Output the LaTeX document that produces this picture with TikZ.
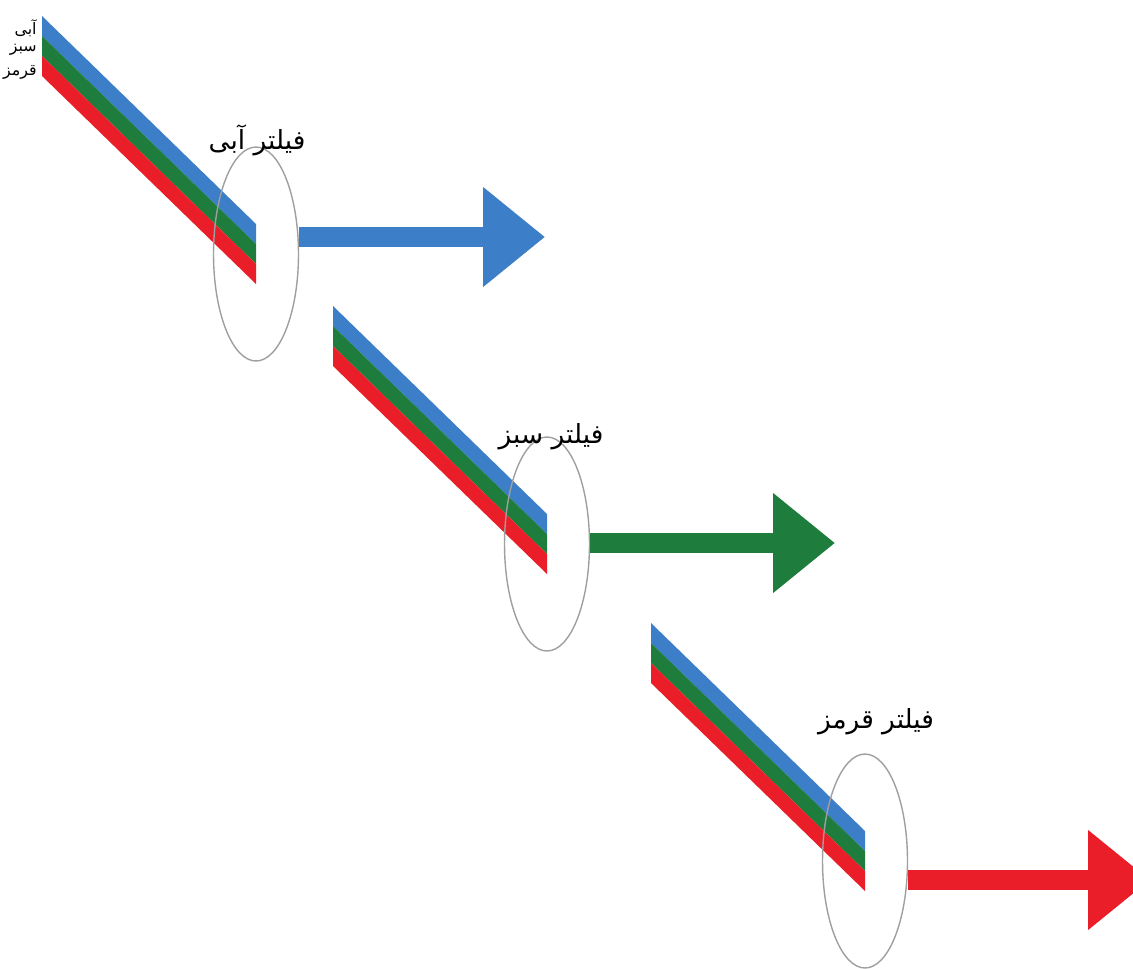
\documentclass[tikz,border=0pt]{standalone}
\usepackage{fontspec}
\newfontfamily\arabicfont[Script=Arabic]{DejaVu Sans}
\TeXXeTstate=1
\usetikzlibrary{shapes.geometric,arrows.meta,positioning}
\usepackage{xcolor}

\definecolor{beamblue}{RGB}{60,126,200}
\definecolor{beamgreen}{RGB}{30,124,60}
\definecolor{beamred}{RGB}{234,30,40}

\begin{document}
\begin{tikzpicture}[
  x=0.02cm, y=-0.02cm,
  filter/.style={ellipse, draw=gray!75, line width=0.8pt, minimum width=1.7cm, minimum height=4.28cm, inner sep=0pt},
  lbl/.style={font=\arabicfont\fontsize{15}{18}\selectfont, inner sep=0pt},
  tag/.style={font=\arabicfont\fontsize{9}{10}\selectfont, inner sep=0pt, anchor=east},
  outarr/.style={line width=0.4cm, -{Triangle[length=1.24cm, width=1.92cm]}},
]
\useasboundingbox (0,0) rectangle (1133,968);

% Beams
\foreach \bx/\by/\bn in {42/16/1, 333/306/2, 651/623/3}{
  \foreach \col [count=\k from 0] in {beamblue,beamgreen,beamred}{
    \fill[\col] (\bx,\by+20*\k) -- ++(214,208) -- ++(0,20) -- ++(-214,-208) -- cycle;
  }
  \coordinate (end\bn) at (\bx+214,\by+238);
}

% Input tags
\node[tag] (tb) at (37,28) {\beginR آبی\endR};
\node[tag] (tg) at (37,50) {\beginR سبز\endR};
\node[tag] (tr) at (37,72) {\beginR قرمز\endR};

% Filters
\node[filter] (f1) at (end1) {};
\node[filter] (f2) at (end2) {};
\node[filter] (f3) at (end3) {};
\node[lbl] (l1) at (257,140) {\beginR فیلتر آبی\endR};
\node[lbl] (l2) at (551,437) {\beginR فیلتر سبز\endR};
\node[lbl] (l3) at (876,722) {\beginR فیلتر قرمز\endR};

% Outputs
\coordinate (tip1) at (545,237);
\coordinate (tip2) at (835,543);
\coordinate (tip3) at (1150,880);
\draw[outarr, beamblue] (f1.east |- tip1) -- (tip1);
\draw[outarr, beamgreen] (f2.east |- tip2) -- (tip2);
\draw[outarr, beamred] (f3.east |- tip3) -- (tip3);
\end{tikzpicture}
\end{document}
